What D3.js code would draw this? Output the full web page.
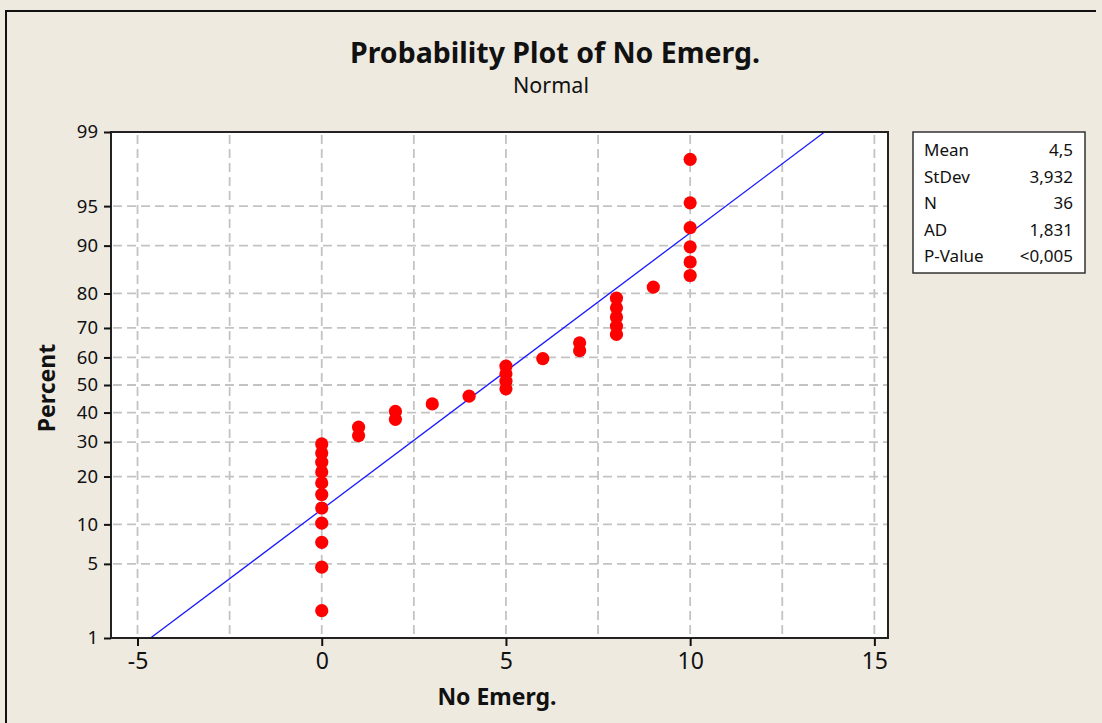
<!DOCTYPE html>
<html>
<head>
<meta charset="utf-8">
<script src="https://cdn.jsdelivr.net/npm/d3@7"></script>
<style>
  body { margin: 0; background: #eeeae0; }
  text { font-family: "Noto Sans", "DejaVu Sans", sans-serif; fill: #111; }
</style>
</head>
<body>
<div id="canvas"></div>
<script>
// data
var noEmerg = [0, 0, 0, 0, 0, 0, 0, 0, 0, 0, 0, 1, 1, 2, 2, 3, 4, 5, 5, 5, 5, 6, 7, 7,
               8, 8, 8, 8, 8, 9, 10, 10, 10, 10, 10, 10];
var percents = [1.9, 4.7, 7.4, 10.2, 12.9, 15.7, 18.4, 21.2, 23.9, 26.6, 29.4, 32.1,
                34.9, 37.6, 40.4, 43.1, 45.9, 48.6, 51.4, 54.1, 56.9, 59.6, 62.4, 65.1,
                67.9, 70.6, 73.4, 76.1, 78.8, 81.6, 84.3, 87.1, 89.8, 92.6, 95.3, 98.1];
var yTicks = [1, 5, 10, 20, 30, 40, 50, 60, 70, 80, 90, 95, 99];
var xTicks = [-5, 0, 5, 10, 15];
var xGrid = [-5, -2.5, 0, 2.5, 5, 7.5, 10, 12.5, 15];
var statLabels = ['Mean', 'StDev', 'N', 'AD', 'P-Value'];
var statValues = ['4,5', '3,932', '36', '1,831', '<0,005'];
var fitMean = 4.5, fitSd = 3.932;

// inverse normal cdf (Acklam) for the probability axis
function qnorm(p) {
    var a = [-3.969683028665376e+01, 2.209460984245205e+02, -2.759285104469687e+02,
             1.383577518672690e+02, -3.066479806614716e+01, 2.506628277459239e+00];
    var b = [-5.447609879822406e+01, 1.615858368580409e+02, -1.556989798598866e+02,
             6.680131188771972e+01, -1.328068155288572e+01];
    var c = [-7.784894002430293e-03, -3.223964580411365e-01, -2.400758277161838e+00,
             -2.549732539343734e+00, 4.374664141464968e+00, 2.938163982698783e+00];
    var d = [7.784695709041462e-03, 3.224671290700398e-01, 2.445134137142996e+00,
             3.754408661907416e+00];
    var q, r;
    if (p < 0.02425) {
        q = Math.sqrt(-2 * Math.log(p));
        return (((((c[0]*q+c[1])*q+c[2])*q+c[3])*q+c[4])*q+c[5]) /
               ((((d[0]*q+d[1])*q+d[2])*q+d[3])*q+1);
    }
    if (p > 1 - 0.02425) {
        q = Math.sqrt(-2 * Math.log(1 - p));
        return -(((((c[0]*q+c[1])*q+c[2])*q+c[3])*q+c[4])*q+c[5]) /
                ((((d[0]*q+d[1])*q+d[2])*q+d[3])*q+1);
    }
    q = p - 0.5;
    r = q * q;
    return (((((a[0]*r+a[1])*r+a[2])*r+a[3])*r+a[4])*r+a[5])*q /
           (((((b[0]*r+b[1])*r+b[2])*r+b[3])*r+b[4])*r+1);
}

function probPlot() {
    var W = 1102, H = 723;
    var pLeft = 111, pRight = 888, pTop = 132, pBottom = 638;

    var svg = d3.select('#canvas').append('svg')
        .attr('width', W)
        .attr('height', H);

    // outer frame
    svg.append('rect').attr('width', W).attr('height', H).attr('fill', '#eeeae0');
    svg.append('path')
        .attr('d', 'M6,' + H + 'V11H1096')
        .attr('fill', 'none')
        .attr('stroke', '#111')
        .attr('stroke-width', 2);

    var x = d3.scaleLinear().domain([-5.72, 15.37]).range([pLeft, pRight]);
    var y = d3.scaleLinear().domain([qnorm(0.01), qnorm(0.99)]).range([pBottom, pTop]);
    function yp(pct) { return y(qnorm(pct / 100)); }

    // plot area
    svg.append('rect')
        .attr('x', pLeft).attr('y', pTop)
        .attr('width', pRight - pLeft).attr('height', pBottom - pTop)
        .attr('fill', '#fff');

    // grid
    var grid = svg.append('g')
        .attr('stroke', '#c3c3c3')
        .attr('stroke-width', 1.8)
        .attr('stroke-dasharray', '9,5');

    grid.selectAll('.vg')
        .data(xGrid)
        .enter()
        .append('line')
        .attr('x1', function(d) { return x(d); })
        .attr('x2', function(d) { return x(d); })
        .attr('y1', pTop + 3)
        .attr('y2', pBottom);

    grid.selectAll('.hg')
        .data(yTicks.slice(1, -1))
        .enter()
        .append('line')
        .attr('x1', pLeft + 2)
        .attr('x2', pRight)
        .attr('y1', function(d) { return yp(d); })
        .attr('y2', function(d) { return yp(d); });

    // fitted line
    var line = d3.line()
        .x(function(d) { return x(fitMean + fitSd * d); })
        .y(function(d) { return y(d); });
    svg.append('path')
        .datum([qnorm(0.01), qnorm(0.99)])
        .attr('d', line)
        .attr('fill', 'none')
        .attr('stroke', '#1a1aff')
        .attr('stroke-width', 1.3);

    // points
    svg.selectAll('.pt')
        .data(noEmerg)
        .enter()
        .append('circle')
        .attr('cx', function(d) { return x(d); })
        .attr('cy', function(d, i) { return yp(percents[i]); })
        .attr('r', 6.6)
        .attr('fill', '#ff0000');

    // frame of plot area
    svg.append('rect')
        .attr('x', pLeft).attr('y', pTop)
        .attr('width', pRight - pLeft).attr('height', pBottom - pTop)
        .attr('fill', 'none')
        .attr('stroke', '#222')
        .attr('stroke-width', 2);

    // axes
    var yAxis = svg.append('g')
        .attr('transform', 'translate(' + pLeft + ',0)')
        .call(d3.axisLeft(y)
            .tickValues(yTicks.map(function(d) { return qnorm(d / 100); }))
            .tickFormat(function(d, i) { return yTicks[i]; })
            .tickSize(7)
            .tickPadding(6));

    var xAxis = svg.append('g')
        .attr('transform', 'translate(0,' + pBottom + ')')
        .call(d3.axisBottom(x)
            .tickValues(xTicks)
            .tickFormat(function(d) { return d; })
            .tickSize(8)
            .tickPadding(7));

    [yAxis, xAxis].forEach(function(ax) {
        ax.select('.domain').remove();
        ax.selectAll('.tick line').attr('stroke', '#111').attr('stroke-width', 2);
        ax.selectAll('.tick text').attr('fill', '#222').attr('font-family', null);
    });
    yAxis.selectAll('.tick text').attr('font-size', '18.5px');
    xAxis.selectAll('.tick text').attr('font-size', '23px');

    // titles
    svg.append('text')
        .attr('x', 555).attr('y', 63)
        .attr('text-anchor', 'middle')
        .attr('font-size', '28.5px')
        .attr('font-weight', 'bold')
        .text('Probability Plot of No Emerg.');

    svg.append('text')
        .attr('x', 551).attr('y', 93)
        .attr('text-anchor', 'middle')
        .attr('font-size', '21.5px')
        .attr('fill', '#222')
        .text('Normal');

    svg.append('text')
        .attr('x', 497).attr('y', 705)
        .attr('text-anchor', 'middle')
        .attr('font-size', '23px')
        .attr('font-weight', 'bold')
        .text('No Emerg.');

    svg.append('text')
        .attr('transform', 'translate(55,' + ((pTop + pBottom) / 2 + 3) + ') rotate(-90)')
        .attr('text-anchor', 'middle')
        .attr('font-size', '23px')
        .attr('font-weight', 'bold')
        .text('Percent');

    // stats box
    var box = svg.append('g').attr('transform', 'translate(913,132)');
    box.append('rect')
        .attr('width', 172).attr('height', 141)
        .attr('fill', '#fff')
        .attr('stroke', '#333')
        .attr('stroke-width', 1.5);

    var rows = box.selectAll('.row')
        .data(statLabels)
        .enter()
        .append('g')
        .attr('transform', function(d, i) { return 'translate(0,' + (24 + i * 26.6) + ')'; });

    rows.append('text')
        .attr('x', 11)
        .attr('font-size', '17px')
        .attr('fill', '#222')
        .text(function(d) { return d; });

    rows.append('text')
        .attr('x', 160)
        .attr('text-anchor', 'end')
        .attr('font-size', '17px')
        .attr('fill', '#222')
        .text(function(d, i) { return statValues[i]; });
}

probPlot();
</script>
</body>
</html>
